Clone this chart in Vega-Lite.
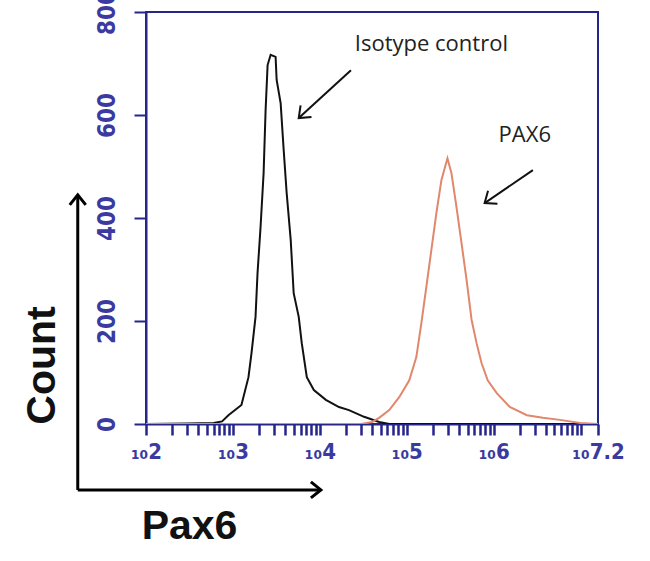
{
  "$schema": "https://vega.github.io/schema/vega-lite/v6.json",
  "width": 452,
  "height": 412,
  "autosize": {"type": "none"},
  "padding": {"left": 146, "top": 12, "right": 52, "bottom": 137},
  "background": "white",
  "config": {"view": {"stroke": "#25258a", "strokeWidth": 2}},
  "datasets": {
    "hist": [
      {"series": "Isotype control", "intensity": 100, "count": 0},
      {"series": "Isotype control", "intensity": 300, "count": 1},
      {"series": "Isotype control", "intensity": 600, "count": 2},
      {"series": "Isotype control", "intensity": 750, "count": 5},
      {"series": "Isotype control", "intensity": 887, "count": 17},
      {"series": "Isotype control", "intensity": 1253, "count": 37},
      {"series": "Isotype control", "intensity": 1510, "count": 91},
      {"series": "Isotype control", "intensity": 1637, "count": 138},
      {"series": "Isotype control", "intensity": 1820, "count": 208},
      {"series": "Isotype control", "intensity": 1919, "count": 293},
      {"series": "Isotype control", "intensity": 2080, "count": 383},
      {"series": "Isotype control", "intensity": 2254, "count": 487},
      {"series": "Isotype control", "intensity": 2377, "count": 610},
      {"series": "Isotype control", "intensity": 2506, "count": 697},
      {"series": "Isotype control", "intensity": 2716, "count": 717},
      {"series": "Isotype control", "intensity": 3097, "count": 713},
      {"series": "Isotype control", "intensity": 3184, "count": 668},
      {"series": "Isotype control", "intensity": 3540, "count": 623},
      {"series": "Isotype control", "intensity": 3837, "count": 532},
      {"series": "Isotype control", "intensity": 4150, "count": 449},
      {"series": "Isotype control", "intensity": 4624, "count": 357},
      {"series": "Isotype control", "intensity": 5000, "count": 254},
      {"series": "Isotype control", "intensity": 5715, "count": 208},
      {"series": "Isotype control", "intensity": 6194, "count": 157},
      {"series": "Isotype control", "intensity": 7079, "count": 91},
      {"series": "Isotype control", "intensity": 8531, "count": 66},
      {"series": "Isotype control", "intensity": 11722, "count": 47},
      {"series": "Isotype control", "intensity": 16596, "count": 33},
      {"series": "Isotype control", "intensity": 21627, "count": 27},
      {"series": "Isotype control", "intensity": 32285, "count": 14},
      {"series": "Isotype control", "intensity": 48084, "count": 4},
      {"series": "Isotype control", "intensity": 63096, "count": 0},
      {"series": "Isotype control", "intensity": 1000000, "count": 0},
      {"series": "Isotype control", "intensity": 15848932, "count": 0},
      {"series": "PAX6", "intensity": 100, "count": 0},
      {"series": "PAX6", "intensity": 30000, "count": 0},
      {"series": "PAX6", "intensity": 40000, "count": 4},
      {"series": "PAX6", "intensity": 48084, "count": 12},
      {"series": "PAX6", "intensity": 62805, "count": 27},
      {"series": "PAX6", "intensity": 81846, "count": 52},
      {"series": "PAX6", "intensity": 106905, "count": 85},
      {"series": "PAX6", "intensity": 128825, "count": 130},
      {"series": "PAX6", "intensity": 147231, "count": 196},
      {"series": "PAX6", "intensity": 167880, "count": 266},
      {"series": "PAX6", "intensity": 191867, "count": 338},
      {"series": "PAX6", "intensity": 219280, "count": 410},
      {"series": "PAX6", "intensity": 250611, "count": 474},
      {"series": "PAX6", "intensity": 293765, "count": 516},
      {"series": "PAX6", "intensity": 326588, "count": 487},
      {"series": "PAX6", "intensity": 373250, "count": 421},
      {"series": "PAX6", "intensity": 426580, "count": 351},
      {"series": "PAX6", "intensity": 487529, "count": 280},
      {"series": "PAX6", "intensity": 557186, "count": 202},
      {"series": "PAX6", "intensity": 635331, "count": 157},
      {"series": "PAX6", "intensity": 726106, "count": 118},
      {"series": "PAX6", "intensity": 853100, "count": 85},
      {"series": "PAX6", "intensity": 1083927, "count": 60},
      {"series": "PAX6", "intensity": 1531087, "count": 33},
      {"series": "PAX6", "intensity": 2409938, "count": 17},
      {"series": "PAX6", "intensity": 3681289, "count": 12},
      {"series": "PAX6", "intensity": 5794287, "count": 8},
      {"series": "PAX6", "intensity": 9862795, "count": 2},
      {"series": "PAX6", "intensity": 15848932, "count": 0}
    ],
    "arrows": [
      {"name": "iso", "x1": 22800, "x2": 5715, "y1": 687, "y2": 594},
      {"name": "pax", "x1": 2825000, "x2": 787000, "y1": 493, "y2": 429},
      {"name": "vert", "x1": 16.4, "x2": 16.4, "y1": -128, "y2": 445},
      {"name": "horiz", "x1": 16.4, "x2": 10280, "y1": -128, "y2": -128}
    ],
    "heads": [
      {"name": "iso", "intensity": 5715, "count": 594},
      {"name": "pax", "intensity": 787000, "count": 429},
      {"name": "vert", "intensity": 16.4, "count": 445},
      {"name": "horiz", "intensity": 10280, "count": -128}
    ],
    "notes": [
      {"label": "Isotype control", "intensity": 191900, "count": 738},
      {"label": "PAX6", "intensity": 2280000, "count": 561}
    ]
  },
  "layer": [
    {
      "data": {"name": "hist"},
      "mark": {"type": "line", "strokeWidth": 2, "clip": true},
      "encoding": {
        "x": {
          "field": "intensity",
          "type": "quantitative",
          "scale": {"type": "log", "domain": [100, 15848932], "nice": false},
          "axis": {
            "orient": "bottom",
            "grid": false,
            "values": [100,200,300,400,500,600,700,800,900,1000,2000,3000,4000,5000,6000,7000,8000,9000,10000,20000,30000,40000,50000,60000,70000,80000,90000,100000,200000,300000,400000,500000,600000,700000,800000,900000,1000000,2000000,3000000,4000000,5000000,6000000,7000000,8000000,9000000,10000000,15848932],
            "labelExpr": "datum.value == 100 ? '₁₀2' : datum.value == 1000 ? '₁₀3' : datum.value == 10000 ? '₁₀4' : datum.value == 100000 ? '₁₀5' : datum.value == 1000000 ? '₁₀6' : datum.value == 15848932 ? '₁₀7.2' : ''",
            "labelFlush": false,
            "labelOverlap": false,
            "labelFont": "Liberation Sans Narrow, DejaVu Sans Condensed, sans-serif",
            "labelFontSize": 22,
            "labelFontWeight": "bold",
            "labelColor": "#3a3aa0",
            "labelPadding": 6,
            "domainColor": "#25258a",
            "domainWidth": 2,
            "tickColor": "#25258a",
            "tickWidth": 2.5,
            "tickSize": 11,
            "title": "Pax6",
            "titleFont": "Liberation Sans",
            "titleFontSize": 41,
            "titleFontWeight": "bold",
            "titleColor": "#111111",
            "titleX": 43,
            "titleY": 102,
            "titleAlign": "center",
            "titleBaseline": "middle"
          }
        },
        "y": {
          "field": "count",
          "type": "quantitative",
          "scale": {"domain": [0, 800], "nice": false},
          "axis": {
            "grid": false,
            "values": [0, 200, 400, 600, 800],
            "labelAngle": -90,
            "labelAlign": "center",
            "labelBaseline": "bottom",
            "labelPadding": 15,
            "labelFont": "Liberation Sans Narrow, DejaVu Sans Condensed, sans-serif",
            "labelFontSize": 24,
            "labelFontWeight": "bold",
            "labelColor": "#3a3aa0",
            "domainColor": "#25258a",
            "domainWidth": 2,
            "tickColor": "#25258a",
            "tickWidth": 2,
            "tickSize": 12,
            "title": "Count",
            "titleFont": "Liberation Sans",
            "titleFontSize": 41,
            "titleFontWeight": "bold",
            "titleColor": "#111111",
            "titleX": -104,
            "titleY": 353,
            "titleAngle": -90,
            "titleAlign": "center",
            "titleBaseline": "middle"
          }
        },
        "color": {
          "field": "series",
          "type": "nominal",
          "scale": {"domain": ["Isotype control", "PAX6"], "range": ["#111111", "#e0876c"]},
          "legend": null
        }
      }
    },
    {
      "data": {"name": "arrows"},
      "transform": [{"filter": "datum.name == 'iso' || datum.name == 'pax'"}],
      "mark": {"type": "rule", "color": "#111111", "strokeWidth": 2},
      "encoding": {
        "x": {"field": "x1", "type": "quantitative"},
        "x2": {"field": "x2"},
        "y": {"field": "y1", "type": "quantitative"},
        "y2": {"field": "y2"}
      }
    },
    {
      "data": {"name": "arrows"},
      "transform": [{"filter": "datum.name == 'vert' || datum.name == 'horiz'"}],
      "mark": {"type": "rule", "color": "#000000", "strokeWidth": 3},
      "encoding": {
        "x": {"field": "x1", "type": "quantitative"},
        "x2": {"field": "x2"},
        "y": {"field": "y1", "type": "quantitative"},
        "y2": {"field": "y2"}
      }
    },
    {
      "data": {"name": "heads"},
      "transform": [{"filter": "datum.name == 'iso'"}],
      "mark": {"type": "point", "shape": "M-1,-0.8L0,0L-1,0.8", "filled": false, "stroke": "#111111", "strokeWidth": 2, "size": 400, "angle": 137, "opacity": 1},
      "encoding": {
        "x": {"field": "intensity", "type": "quantitative"},
        "y": {"field": "count", "type": "quantitative"}
      }
    },
    {
      "data": {"name": "heads"},
      "transform": [{"filter": "datum.name == 'pax'"}],
      "mark": {"type": "point", "shape": "M-1,-0.8L0,0L-1,0.8", "filled": false, "stroke": "#111111", "strokeWidth": 2, "size": 400, "angle": 144, "opacity": 1},
      "encoding": {
        "x": {"field": "intensity", "type": "quantitative"},
        "y": {"field": "count", "type": "quantitative"}
      }
    },
    {
      "data": {"name": "heads"},
      "transform": [{"filter": "datum.name == 'vert'"}],
      "mark": {"type": "point", "shape": "M-1,-0.8L0,0L-1,0.8", "filled": false, "stroke": "#000000", "strokeWidth": 3, "size": 400, "angle": -90, "opacity": 1},
      "encoding": {
        "x": {"field": "intensity", "type": "quantitative"},
        "y": {"field": "count", "type": "quantitative"}
      }
    },
    {
      "data": {"name": "heads"},
      "transform": [{"filter": "datum.name == 'horiz'"}],
      "mark": {"type": "point", "shape": "M-1,-0.8L0,0L-1,0.8", "filled": false, "stroke": "#000000", "strokeWidth": 3, "size": 400, "angle": 0, "opacity": 1},
      "encoding": {
        "x": {"field": "intensity", "type": "quantitative"},
        "y": {"field": "count", "type": "quantitative"}
      }
    },
    {
      "data": {"name": "notes"},
      "mark": {"type": "text", "font": "Open Sans", "fontSize": 22, "color": "#222222", "align": "center", "baseline": "middle"},
      "encoding": {
        "x": {"field": "intensity", "type": "quantitative"},
        "y": {"field": "count", "type": "quantitative"},
        "text": {"field": "label"}
      }
    }
  ]
}
